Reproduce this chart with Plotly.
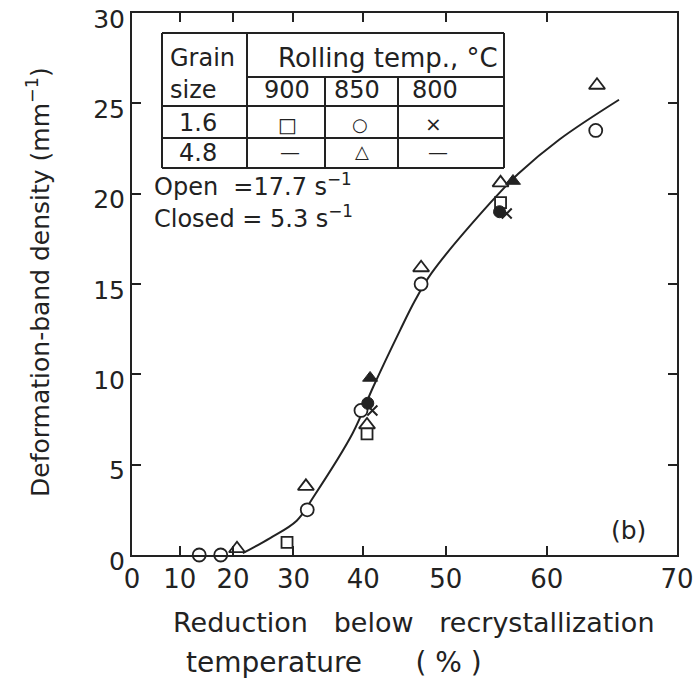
import numpy as np
import plotly.graph_objects as go

# ---------------- data (reduction %, band density mm^-1) ----------------
tick_r = [0, 10, 20, 30, 40, 50, 60, 70]
tick_text = ["0", "10", "20", "30", "40", "50", "60", "70"]
y_ticks = [0, 5, 10, 15, 20, 25, 30]

circ_r = [13.8, 17.8, 32.1, 39.7, 47.2, 64.1]
circ_y = [0.0, 0.0, 2.5, 8.0, 15.0, 23.5]

tri_r = [20.7, 31.9, 40.5, 47.2, 55.7, 64.2]
tri_y = [0.35, 3.8, 7.2, 15.9, 20.6, 26.0]

sq_r = [29.0, 40.5, 55.7]
sq_y = [0.7, 6.7, 19.5]

x_r = [41.2, 56.3]
x_y = [8.0, 18.9]

fcirc_r = [40.6, 55.6]
fcirc_y = [8.4, 19.0]

ftri_r = [40.9, 56.9]
ftri_y = [9.8, 20.7]

curve_r = [21.7, 26.3, 30.5, 33.0, 38.6, 41.3, 44.7, 46.5, 48.4, 54.7, 57.4, 61.1, 65.9]
curve_y = [0.1, 0.94, 1.9, 3.2, 6.75, 9.3, 12.45, 14.1, 15.6, 19.5, 21.1, 23.0, 25.2]


def strain(r):
    """True-strain scale used on the x axis: -ln(1 - r)."""
    return -np.log(1 - np.asarray(r, dtype=float) / 100.0)


INK = "#222222"
FONT = "DejaVu Sans"

fig = go.Figure()

fig.add_trace(go.Scatter(
    x=strain(curve_r), y=curve_y, mode="lines",
    line=dict(color=INK, width=2, shape="spline", smoothing=1.0),
    hoverinfo="skip", showlegend=False, cliponaxis=False))

open_style = dict(color="white", line=dict(color=INK, width=1.8))
fig.add_trace(go.Scatter(x=strain(circ_r), y=circ_y, mode="markers",
                         marker=dict(symbol="circle", size=13, **open_style),
                         showlegend=False, cliponaxis=False))
fig.add_trace(go.Scatter(x=strain(tri_r), y=tri_y, mode="markers",
                         marker=dict(symbol="triangle-up", size=14, **open_style),
                         showlegend=False, cliponaxis=False))
fig.add_trace(go.Scatter(x=strain(sq_r), y=sq_y, mode="markers",
                         marker=dict(symbol="square", size=11, **open_style),
                         showlegend=False, cliponaxis=False))
fig.add_trace(go.Scatter(x=strain(fcirc_r), y=fcirc_y, mode="markers",
                         marker=dict(symbol="circle", size=12, color=INK,
                                     line=dict(color=INK, width=1)),
                         showlegend=False, cliponaxis=False))
fig.add_trace(go.Scatter(x=strain(ftri_r), y=ftri_y, mode="markers",
                         marker=dict(symbol="triangle-up", size=13, color=INK,
                                     line=dict(color=INK, width=1)),
                         showlegend=False, cliponaxis=False))
fig.add_trace(go.Scatter(x=strain(x_r), y=x_y, mode="markers",
                         marker=dict(symbol="x-thin", size=10,
                                     line=dict(color=INK, width=2)),
                         showlegend=False, cliponaxis=False))

# ---------------- layout ----------------
W, H = 694, 689
ML, MR, MT, MB = 132, 17, 13, 134
PW, PH = W - ML - MR, H - MT - MB


def P(px, py):
    return (px - ML) / PW, (H - MB - py) / PH


axis_common = dict(
    ticks="inside", ticklen=9, tickwidth=2, tickcolor=INK,
    showline=True, linewidth=2, linecolor=INK, mirror="ticks",
    showgrid=False, zeroline=False, automargin=False,
    ticklabeloverflow="allow")

fig.update_layout(
    width=W, height=H, autosize=False,
    margin=dict(l=ML, r=MR, t=MT, b=MB, autoexpand=False),
    paper_bgcolor="white", plot_bgcolor="white",
    font=dict(family=FONT, color=INK),
    xaxis=dict(range=[0, float(strain(70))],
               tickvals=list(strain(tick_r)), ticktext=tick_text,
               tickfont=dict(size=26, family=FONT, color=INK),
               **axis_common),
    yaxis=dict(range=[0, 30], tickvals=y_ticks, ticklabelshift=6,
               tickfont=dict(size=25, family=FONT, color=INK),
               **axis_common),
)

shapes = []


def hline(x0, x1, y):
    a = P(x0, y); b = P(x1, y)
    shapes.append(dict(type="line", xref="paper", yref="paper",
                       x0=a[0], y0=a[1], x1=b[0], y1=b[1],
                       line=dict(color=INK, width=2)))


def vline(x, y0, y1):
    a = P(x, y0); b = P(x, y1)
    shapes.append(dict(type="line", xref="paper", yref="paper",
                       x0=a[0], y0=a[1], x1=b[0], y1=b[1],
                       line=dict(color=INK, width=2)))


# table frame
hline(162, 504, 33)
hline(247, 504, 77)
hline(162, 504, 106)
hline(162, 504, 138)
hline(162, 504, 168)
vline(162, 33, 168)
vline(247, 33, 168)
vline(325, 77, 168)
vline(398, 77, 168)
vline(504, 33, 168)
fig.update_layout(shapes=shapes)

annots = []


def txt(s, px, py, size=24, xanchor="center", angle=0):
    x, y = P(px, py)
    annots.append(dict(text=s, x=x, y=y, xref="paper", yref="paper",
                       xanchor=xanchor, yanchor="middle", showarrow=False,
                       textangle=angle,
                       font=dict(size=size, family=FONT, color=INK)))


txt("Grain", 168, 58, xanchor="left")
txt("size", 168, 90, xanchor="left")
txt("Rolling temp., °C", 388, 58, size=26)
txt("900", 287, 90)
txt("850", 357, 90)
txt("800", 435, 90)
txt("1.6", 198, 123)
txt("4.8", 198, 153)
txt("□", 287, 125, size=20)
txt("○", 360, 125, size=18)
txt("×", 433, 124, size=20)
txt("—", 290, 152, size=20)
txt("△", 362, 152, size=18)
txt("—", 438, 152, size=20)
txt("Open\u00a0 =17.7 s<sup>−1</sup>", 152, 185, xanchor="left")
txt("Closed = 5.3 s<sup>−1</sup>", 152, 217, xanchor="left")
txt("(b)", 628, 530, size=25)

# axis titles
txt("Deformation-band density (mm<sup>−1</sup>)", 38, 282, size=25, angle=-90)
txt("Reduction\u00a0\u00a0 below\u00a0\u00a0 recrystallization", 414, 622, size=27)
txt("temperature\u00a0\u00a0\u00a0\u00a0\u00a0 ( % )", 184, 662, size=28, xanchor="left")

fig.update_layout(annotations=annots)

fig.write_html("out.html")
